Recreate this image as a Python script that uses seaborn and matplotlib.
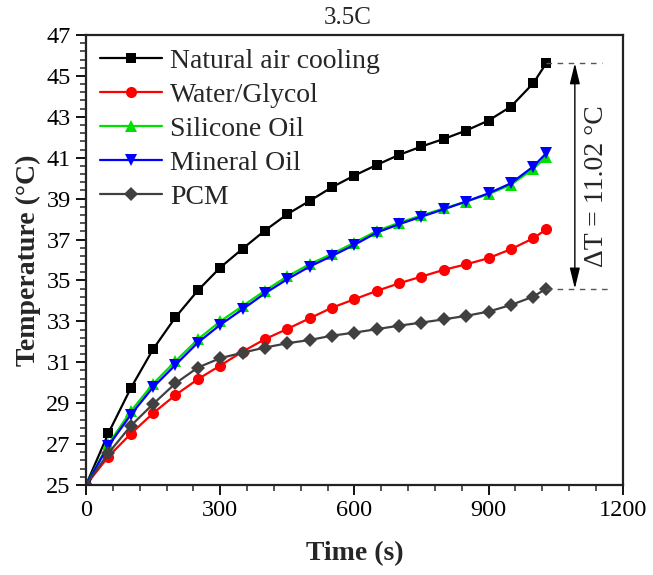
import numpy as np
import pandas as pd
import matplotlib
matplotlib.use("Agg")
import matplotlib.pyplot as plt
import seaborn as sns

# Time stamps (s) of the 3.5C discharge
time_s = [0, 50, 100, 150, 200, 250, 300, 350, 400, 450, 500, 550, 600,
          650, 700, 750, 800, 850, 900, 950, 1000, 1029]

natural_air = [25.0, 27.53, 29.73, 31.64, 33.20, 34.51, 35.63, 36.55, 37.44,
               38.24, 38.89, 39.56, 40.13, 40.65, 41.14, 41.55, 41.92, 42.33,
               42.82, 43.50, 44.64, 45.62]
water_glycol = [25.0, 26.39, 27.50, 28.51, 29.40, 30.17, 30.84, 31.52, 32.13,
                32.63, 33.15, 33.67, 34.08, 34.49, 34.86, 35.19, 35.52, 35.79,
                36.09, 36.53, 37.06, 37.50]
silicone_oil = [25.0, 27.00, 28.60, 29.95, 31.05, 32.12, 33.00, 33.75, 34.50,
                35.20, 35.80, 36.30, 36.85, 37.42, 37.82, 38.18, 38.52, 38.86,
                39.22, 39.68, 40.45, 41.05]
mineral_oil = [25.0, 26.91, 28.43, 29.78, 30.87, 31.96, 32.83, 33.59, 34.37,
               35.06, 35.68, 36.20, 36.74, 37.34, 37.75, 38.12, 38.48, 38.86,
               39.26, 39.75, 40.57, 41.22]
pcm = [25.0, 26.55, 27.89, 28.96, 29.97, 30.74, 31.20, 31.47, 31.72, 31.93,
       32.09, 32.30, 32.45, 32.62, 32.79, 32.94, 33.10, 33.27, 33.48, 33.80,
       34.21, 34.60]

series_names = ["Natural air cooling", "Water/Glycol", "Silicone Oil",
                "Mineral Oil", "PCM"]
series_values = [natural_air, water_glycol, silicone_oil, mineral_oil, pcm]
series_colors = ["#000000", "#ff0000", "#00e000", "#0000ff", "#404040"]
series_markers = ["s", "o", "^", "v", "D"]

x_ticks = [0, 300, 600, 900, 1200]
y_ticks = [25, 27, 29, 31, 33, 35, 37, 39, 41, 43, 45, 47]

sns.set_style("ticks")
plt.rcParams["font.family"] = ["Liberation Serif", "DejaVu Serif"]
plt.rcParams["mathtext.fontset"] = "stix"

fig = plt.figure(figsize=(6.53, 5.75), dpi=100)
ax = fig.add_axes([0.1317, 0.1565, 0.8219, 0.7826])

frames = []
for name, vals in zip(series_names, series_values):
    frames.append(pd.DataFrame({"Time": time_s, "Temp": vals, "Case": name}))
df = pd.concat(frames, ignore_index=True)

for name, color, marker in zip(series_names, series_colors, series_markers):
    sub = df[df["Case"] == name]
    ms = 7 if marker in ("s", "D") else 8
    sns.lineplot(data=sub, x="Time", y="Temp", ax=ax, color=color,
                 marker=marker, markersize=ms, markeredgewidth=0,
                 linewidth=1.6, label=name)

ax.set_xlim(0, 1200)
ax.set_ylim(25, 47)
ax.set_xticks(x_ticks)
ax.set_yticks(y_ticks)
ax.set_xticks(np.arange(0, 1201, 60), minor=True)
ax.set_yticks(np.arange(25, 47.01, 0.4), minor=True)
ax.tick_params(axis="both", which="major", direction="out", length=7,
               width=1.3, labelsize=17.5, colors="black", pad=4)
ax.tick_params(axis="both", which="minor", direction="out", length=4,
               width=1.1)
for s in ax.spines.values():
    s.set_linewidth(1.6)
    s.set_color("#222222")
    s.set_visible(True)

ax.set_xlabel("Time (s)", fontsize=20, fontweight="bold", labelpad=14)
ax.set_ylabel("Temperature (°C)", fontsize=20, fontweight="bold", labelpad=4)
ax.set_title("3.5C", fontsize=18, pad=8, x=0.487)

# Temperature difference between the hottest and coolest case at end of discharge
t_end = time_s[-1]
t_hot = natural_air[-1]
t_cold = pcm[-1]
ax.plot([t_end, 1153], [t_hot, t_hot], ls=(0, (4, 4)), color="#555555", lw=1)
ax.plot([t_end, 1175], [t_cold, t_cold], ls=(0, (4, 4)), color="#555555", lw=1)
ax.annotate("", xy=(1093, t_hot), xytext=(1093, t_cold),
            arrowprops=dict(arrowstyle="<|-|>,head_length=0.9,head_width=0.22",
                            color="black", lw=1.0, mutation_scale=14,
                            shrinkA=0, shrinkB=0))
ax.text(1142, (t_hot + t_cold) / 2 - 0.5,
        f"ΔT = {t_hot - t_cold:.2f} °C", rotation=90, ha="center",
        va="center", fontsize=20)

leg = ax.legend(loc="upper left", bbox_to_anchor=(0.027, 0.97),
                frameon=False, fontsize=20, handlelength=2.2,
                handletextpad=0.3, labelspacing=0.31, borderpad=0,
                borderaxespad=0)

fig.savefig("out.png", dpi=100)
